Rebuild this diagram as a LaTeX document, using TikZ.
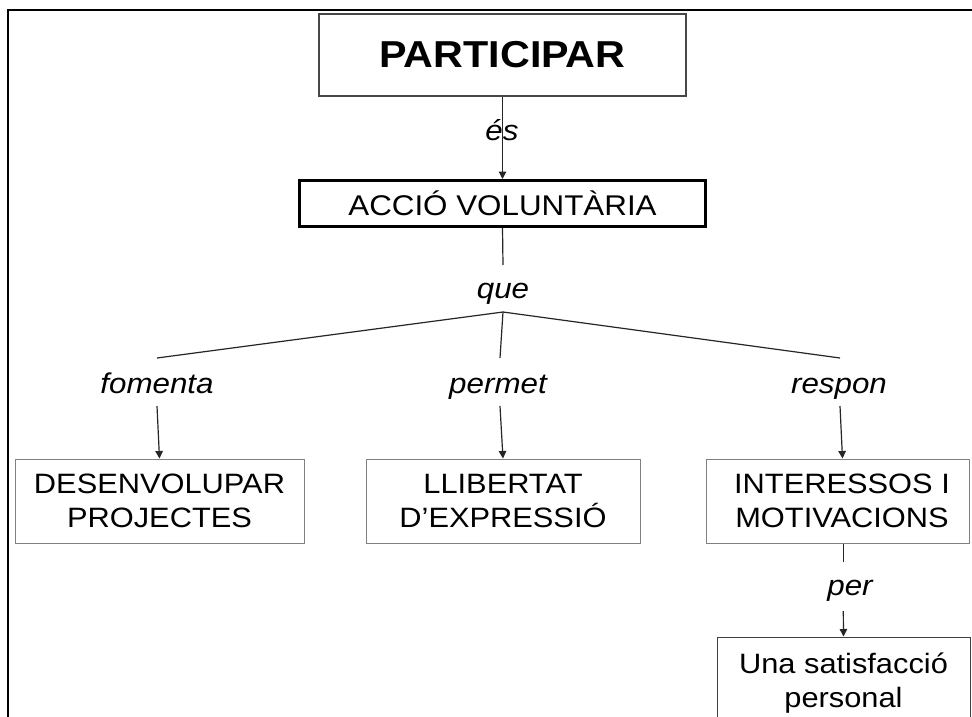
\documentclass[tikz,border=0pt]{standalone}
\usepackage{fontspec}
\setmainfont{Liberation Sans}[FakeStretch=1.1]
\usetikzlibrary{arrows.meta}
\begin{document}
\begin{tikzpicture}[x=1pt,y=-1pt,
  conn/.style={line width=1.2pt, draw=black!85},
  arr/.style={conn, -{Triangle[length=7.5pt,width=7.5pt]}},
  lbl/.style={font=\fontsize{28.5}{34}\selectfont\itshape, inner sep=0pt, anchor=base},
  cbox/.style={draw=gray, line width=1pt, minimum height=84pt, align=center, inner sep=0pt, font=\fontsize{28}{34.5}\selectfont},
]
\clip (0,0) rectangle (972,717);
\fill[white] (0,0) rectangle (972,717);
\draw[line width=2.2pt] (972,10) -- (8,10) -- (8,717);

\node[draw=black!72, line width=2.8pt, minimum width=367pt, minimum height=82pt, inner sep=0pt,
      font=\fontsize{37.5}{40}\selectfont\bfseries] (part) at (502.5,55) {PARTICIPAR};
\node[draw=black, line width=3pt, minimum width=406pt, minimum height=46pt, inner sep=0pt,
      font=\fontsize{28.5}{34}\selectfont] (acc) at (502.5,203.5) {ACCIÓ VOLUNTÀRIA};

\draw[arr] (part.south) -- (acc.north);
\node[lbl] (es) at (502,140) {és};

\coordinate (q1) at (503,265);
\draw[conn] (acc.south) -- (q1);
\node[lbl] (que) at (503,298) {que};
\coordinate (hub) at (503,312);
\coordinate (fl) at (157,358);
\coordinate (pl) at (500,358);
\coordinate (rl) at (840,358);
\draw[conn] (fl) -- (hub) -- (rl);
\draw[conn] (hub) -- (pl);

\node[lbl] (fom) at (157,393) {fomenta};
\node[lbl] (perm) at (498,393) {permet};
\node[lbl] (resp) at (839,393) {respon};

\coordinate (fa) at (157,406);
\coordinate (pa) at (500,406);
\coordinate (ra) at (840,406);

\node[cbox, minimum width=289pt] (des) at (159.5,501) {DESENVOLUPAR\\PROJECTES};
\node[cbox, minimum width=274pt] (lli) at (503,501) {LLIBERTAT\\D’EXPRESSIÓ};
\node[cbox, minimum width=263pt] (int) at (837.5,501) {\hspace*{9pt}INTERESSOS I\\\hspace*{9pt}MOTIVACIONS};
\node[cbox, draw=black!75, minimum width=253pt, minimum height=92pt] (sat) at (843.5,683) {Una satisfacció\\personal};

\draw[arr] (fa) -- (des.north);
\draw[arr] (pa) -- (lli.north);
\draw[arr] (ra) -- ([xshift=5pt]int.north);

\coordinate (i1) at (843.3,562);
\draw[conn] ([xshift=5.8pt]int.south) -- (i1);
\node[lbl] (per) at (850,595) {per};
\coordinate (pb) at (843.3,611);
\draw[arr] (pb) -- (sat.north);
\end{tikzpicture}
\end{document}
